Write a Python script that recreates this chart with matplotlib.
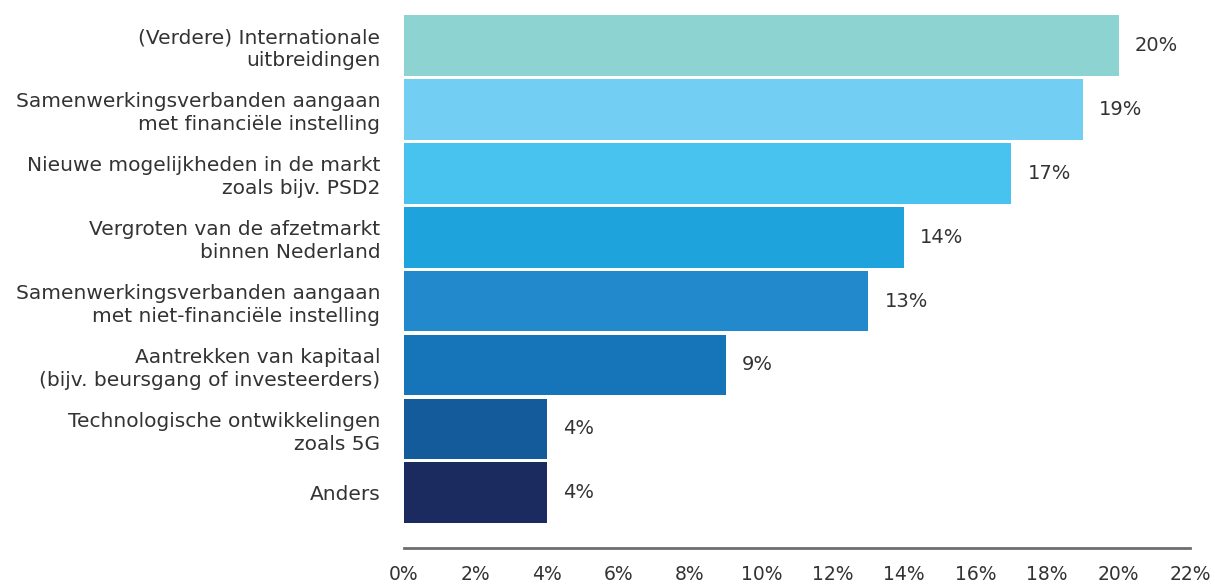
import matplotlib
matplotlib.use("Agg")
import matplotlib.pyplot as plt

categories = [
    "(Verdere) Internationale\nuitbreidingen",
    "Samenwerkingsverbanden aangaan\nmet financiële instelling",
    "Nieuwe mogelijkheden in de markt\nzoals bijv. PSD2",
    "Vergroten van de afzetmarkt\nbinnen Nederland",
    "Samenwerkingsverbanden aangaan\nmet niet-financiële instelling",
    "Aantrekken van kapitaal\n(bijv. beursgang of investeerders)",
    "Technologische ontwikkelingen\nzoals 5G",
    "Anders",
]
values = [20, 19, 17, 14, 13, 9, 4, 4]
colors = ["#8dd3d2", "#72cef3", "#48c3ef", "#1fa3dc",
          "#2189cc", "#1575b8", "#145b9c", "#1b2b5f"]
xticks = list(range(0, 23, 2))

plt.rcParams['font.family'] = ['DejaVu Sans']
txt = "#333333"

fig = plt.figure(figsize=(12.15, 5.86), dpi=100)
ax = fig.add_axes([404 / 1215, 38 / 586, 786 / 1215, 536 / 586])

pos = list(range(len(values)))
ax.barh(pos, values, height=0.95, color=colors)

for p, v in zip(pos, values):
    ax.text(v + 0.45, p, f"{v}%", va="center", ha="left", fontsize=14, color=txt)

ax.set_xlim(0, 22)
ax.set_ylim(7.864, -0.524)
ax.set_yticks(pos)
ax.set_yticklabels(categories, fontsize=14.5, color=txt, linespacing=1.25)
ax.set_xticks(xticks)
ax.set_xticklabels([f"{t}%" for t in xticks], fontsize=13.5, color=txt)
ax.tick_params(axis="both", length=0)
ax.tick_params(axis="y", pad=17)
ax.tick_params(axis="x", pad=12)

for s in ["top", "right", "left"]:
    ax.spines[s].set_visible(False)
ax.spines["bottom"].set_color("#6d6e71")
ax.spines["bottom"].set_linewidth(2)

fig.savefig("out.png", dpi=100)
